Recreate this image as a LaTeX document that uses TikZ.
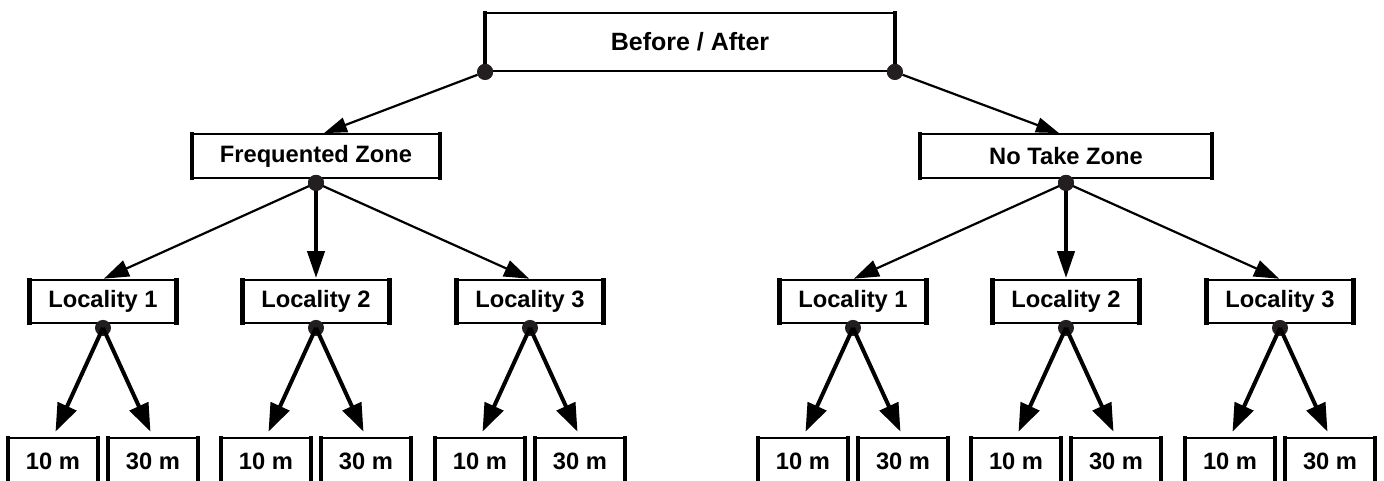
\documentclass[tikz,border=0pt]{standalone}
\usepackage{fontspec}
\setmainfont{Liberation Sans}
\usetikzlibrary{arrows.meta, positioning, calc}

\definecolor{dotgray}{RGB}{35, 31, 32}

\tikzset{
  sidebox/.style={draw, line width=1.8pt, fill=white, inner sep=0pt,
    font=\fontsize{23.7}{26}\selectfont\bfseries,
    append after command={
      (\tikzlastnode.north west) edge[line width=4.5pt, shorten <=-0.9pt, shorten >=-0.9pt] (\tikzlastnode.south west)
      (\tikzlastnode.north east) edge[line width=4.5pt, shorten <=-0.9pt, shorten >=-0.9pt] (\tikzlastnode.south east)}},
  topbox/.style={sidebox, minimum width=408pt, minimum height=58pt, font=\fontsize{25}{28}\selectfont\bfseries},
  zonebox/.style={sidebox, minimum height=44pt},
  locbox/.style={sidebox, minimum width=145pt, minimum height=43pt},
  depthbox/.style={sidebox, minimum width=88pt, minimum height=46pt},
  dot/.style={circle, fill=dotgray, inner sep=0pt, minimum size=16pt},
  toparrow/.style={line width=2.2pt, -{Triangle[length=23pt, width=15pt]}},
  thinarrow/.style={line width=2.2pt, -{Triangle[length=25pt, width=17pt]}},
  thickarrow/.style={line width=4pt, -{Triangle[length=27pt, width=17pt]}},
  lowarrow/.style={line width=4pt, -{Triangle[length=28pt, width=20pt]}},
}

\begin{document}
\begin{tikzpicture}[x=1pt, y=-1pt]
  \path[use as bounding box, clip] (0,0) rectangle (1384,480);

  % top level
  \node[topbox] (top) at (690,42) {Before / After};
  \node[dot] (topL) at (top.south west) {};
  \node[dot] (topR) at (top.south east) {};

  % the two zones
  \node[zonebox, minimum width=246pt] (fz) at (316,156) {Frequented Zone};
  \node[zonebox, minimum width=290pt] (ntz) at (1066,156) {No Take Zone};

  \draw[toparrow] (topL) -- ([xshift=8pt]fz.north);
  \draw[toparrow] (topR) -- ([xshift=-7pt]ntz.north);

  % localities and depths under each zone
  \foreach \z/\zx in {fz/316, ntz/1066} {
    \node[dot] (\z-dot) at ([yshift=-4pt]\z.south) {};
    \foreach \i/\dx in {1/-213, 2/0, 3/214} {
      \node[locbox] (\z-loc\i) at (\zx+\dx,301.5) {Locality \i};
      \node[dot] (\z-loc\i-dot) at ([yshift=-4pt]\z-loc\i.south) {};
      \node[depthbox] (\z-loc\i-a) at ([xshift=-50pt]\z-loc\i |- 0,461) {10 m};
      \node[depthbox] (\z-loc\i-b) at ([xshift=50pt]\z-loc\i |- 0,461) {30 m};
      \draw[lowarrow, shorten >=6pt] (\z-loc\i-dot.center) -- (\z-loc\i-a.north);
      \draw[lowarrow, shorten >=6pt] (\z-loc\i-dot.center) -- (\z-loc\i-b.north);
    }
    \draw[thinarrow, shorten >=1pt] (\z-dot.center) -- (\z-loc1.north);
    \draw[thickarrow, shorten >=1pt] (\z-dot.center) -- (\z-loc2.north);
    \draw[thinarrow, shorten >=1pt] (\z-dot.center) -- (\z-loc3.north);
    \node[dot] at (\z-dot) {};
  }
  \node[dot] at (topL) {};
  \node[dot] at (topR) {};
\end{tikzpicture}
\end{document}
